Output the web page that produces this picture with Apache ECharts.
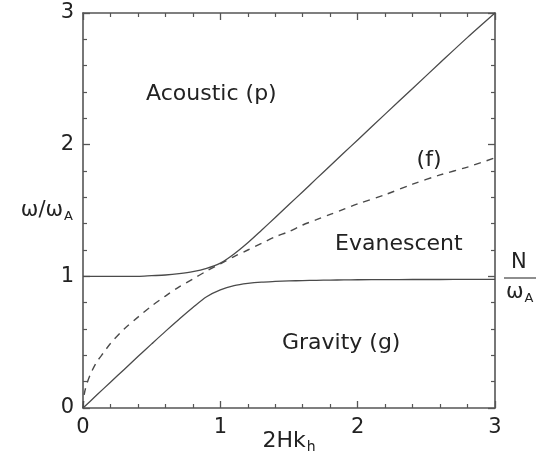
<!DOCTYPE html>
<html>
<head>
<meta charset="utf-8">
<script src="https://cdn.jsdelivr.net/npm/echarts@6/dist/echarts.min.js"></script>
<style>
  html, body { margin: 0; padding: 0; background: #fff; }
  #chart { width: 540px; height: 460px; }
</style>
</head>
<body>
<div id="chart"></div>
<script>
// Horizontal wavenumber 2Hk_h sampled for the two solid branches
const branchX = [0, 0.1, 0.2, 0.3, 0.4, 0.5, 0.6, 0.7, 0.8, 0.9, 1.0, 1.1, 1.2, 1.3, 1.4, 1.5, 1.6, 1.7, 1.8, 1.9, 2.0, 2.2, 2.4, 2.6, 2.8, 3.0];
// Acoustic (p) branch, ω/ω_A
const acousticY = [1.00, 1.00, 1.00, 1.00, 1.00, 1.005, 1.01, 1.02, 1.035, 1.06, 1.10, 1.17, 1.255, 1.35, 1.447, 1.545, 1.643, 1.742, 1.84, 1.938, 2.036, 2.232, 2.427, 2.622, 2.815, 3.00];
// Gravity (g) branch, ω/ω_A
const gravityY = [0, 0.098, 0.196, 0.293, 0.391, 0.487, 0.582, 0.674, 0.763, 0.845, 0.897, 0.929, 0.946, 0.956, 0.961, 0.965, 0.968, 0.970, 0.971, 0.973, 0.974, 0.975, 0.976, 0.976, 0.977, 0.977];
// Surface (f) mode, dashed
const fModeX = [0, 0.01, 0.03, 0.06, 0.1, 0.15, 0.2, 0.3, 0.4, 0.5, 0.6, 0.7, 0.8, 0.9, 1.0, 1.1, 1.2, 1.3, 1.4, 1.5, 1.6, 1.7, 1.8, 1.9, 2.0, 2.2, 2.4, 2.6, 2.8, 3.0];
const fModeY = [0, 0.11, 0.19, 0.27, 0.35, 0.42, 0.49, 0.60, 0.69, 0.775, 0.85, 0.92, 0.98, 1.04, 1.095, 1.15, 1.20, 1.25, 1.30, 1.34, 1.39, 1.43, 1.47, 1.51, 1.55, 1.62, 1.70, 1.77, 1.83, 1.90];

// Region labels placed in data coordinates
const regionText = ['Acoustic (p)', '(f)', 'Evanescent', 'Gravity (g)'];
const regionX = [0.935, 2.52, 2.30, 1.88];
const regionY = [2.38, 1.88, 1.245, 0.49];

const tickLabelsX = ['0', '1', '2', '3'];
const tickLabelsY = ['0', '1', '2', '3'];

const FONT = 'DejaVu Sans';
const INK = '#222';
const AXIS = '#555';
const CURVE = '#4a4a4a';

const zip = (xs, ys) => xs.map((x, i) => [x, ys[i]]);

function axisBase(showLabels, labels) {
  return {
    type: 'value',
    min: 0,
    max: 3,
    interval: 1,
    axisLine: { show: true, onZero: false, lineStyle: { color: AXIS, width: 1.6 } },
    axisTick: { show: true, inside: true, length: 7, lineStyle: { color: AXIS, width: 1.3 } },
    minorTick: { show: true, splitNumber: 5, length: 4, lineStyle: { color: AXIS, width: 1.2 } },
    splitLine: { show: false },
    minorSplitLine: { show: false },
    axisLabel: {
      show: showLabels,
      fontFamily: FONT,
      fontSize: 21,
      color: INK,
      margin: 9,
      formatter: (v) => labels[Math.round(v)]
    }
  };
}

const chart = echarts.init(document.getElementById('chart'), null, { renderer: 'canvas' });

const option = {
  animation: false,
  backgroundColor: '#fff',
  grid: { left: 83, right: 45, top: 13, bottom: 52, containLabel: false, outerBoundsMode: 'none' },
  xAxis: [
    Object.assign(axisBase(true, tickLabelsX), {
      position: 'bottom',
      name: '{a|2Hk}{s|h}',
      nameLocation: 'middle',
      nameGap: 20,
      nameMoveOverlap: false,
      nameTextStyle: {
        color: INK,
        rich: {
          a: { fontFamily: FONT, fontSize: 22, color: INK },
          s: { fontFamily: FONT, fontSize: 14, color: INK, padding: [12, 0, 0, 1] }
        }
      }
    }),
    Object.assign(axisBase(false, tickLabelsX), { position: 'top' })
  ],
  yAxis: [
    Object.assign(axisBase(true, tickLabelsY), {
      position: 'left',
      name: '{a|ω/ω}{s|A}',
      nameLocation: 'middle',
      nameRotate: 0,
      nameGap: 10,
      nameMoveOverlap: false,
      nameTextStyle: {
        color: INK,
        rich: {
          a: { fontFamily: FONT, fontSize: 21, color: INK },
          s: { fontFamily: FONT, fontSize: 13, color: INK, padding: [12, 0, 0, 1] }
        }
      }
    }),
    Object.assign(axisBase(false, tickLabelsY), { position: 'right' })
  ],
  series: [
    {
      name: 'Acoustic (p)',
      type: 'line',
      data: zip(branchX, acousticY),
      showSymbol: false,
      smooth: 0.3,
      lineStyle: { color: CURVE, width: 1.3 }
    },
    {
      name: 'Gravity (g)',
      type: 'line',
      data: zip(branchX, gravityY),
      showSymbol: false,
      smooth: 0.3,
      lineStyle: { color: CURVE, width: 1.3 }
    },
    {
      name: 'f mode',
      type: 'line',
      data: zip(fModeX, fModeY),
      showSymbol: false,
      smooth: 0.3,
      lineStyle: { color: CURVE, width: 1.4, type: [7, 6] }
    },
    {
      name: 'regions',
      type: 'scatter',
      symbolSize: 0,
      itemStyle: { opacity: 1 },
      data: regionText.map((t, i) => [regionX[i], regionY[i], t]),
      label: {
        show: true,
        position: 'inside',
        formatter: (p) => p.data[2],
        fontFamily: FONT,
        fontSize: 22,
        color: INK
      },
      silent: true
    }
  ],
  graphic: [
    {
      type: 'text',
      left: 511, top: 252,
      style: { text: 'N', font: '21px "DejaVu Sans"', fill: INK }
    },
    {
      type: 'line',
      shape: { x1: 504, y1: 278, x2: 536, y2: 278 },
      style: { stroke: '#444', lineWidth: 1.2 }
    },
    {
      type: 'text',
      left: 506, top: 282,
      style: {
        text: '{a|ω}{s|A}',
        rich: {
          a: { fontFamily: FONT, fontSize: 21, fill: INK, color: INK },
          s: { fontFamily: FONT, fontSize: 13, fill: INK, color: INK, padding: [12, 0, 0, 1] }
        }
      }
    }
  ]
};

chart.setOption(option);
</script>
</body>
</html>
